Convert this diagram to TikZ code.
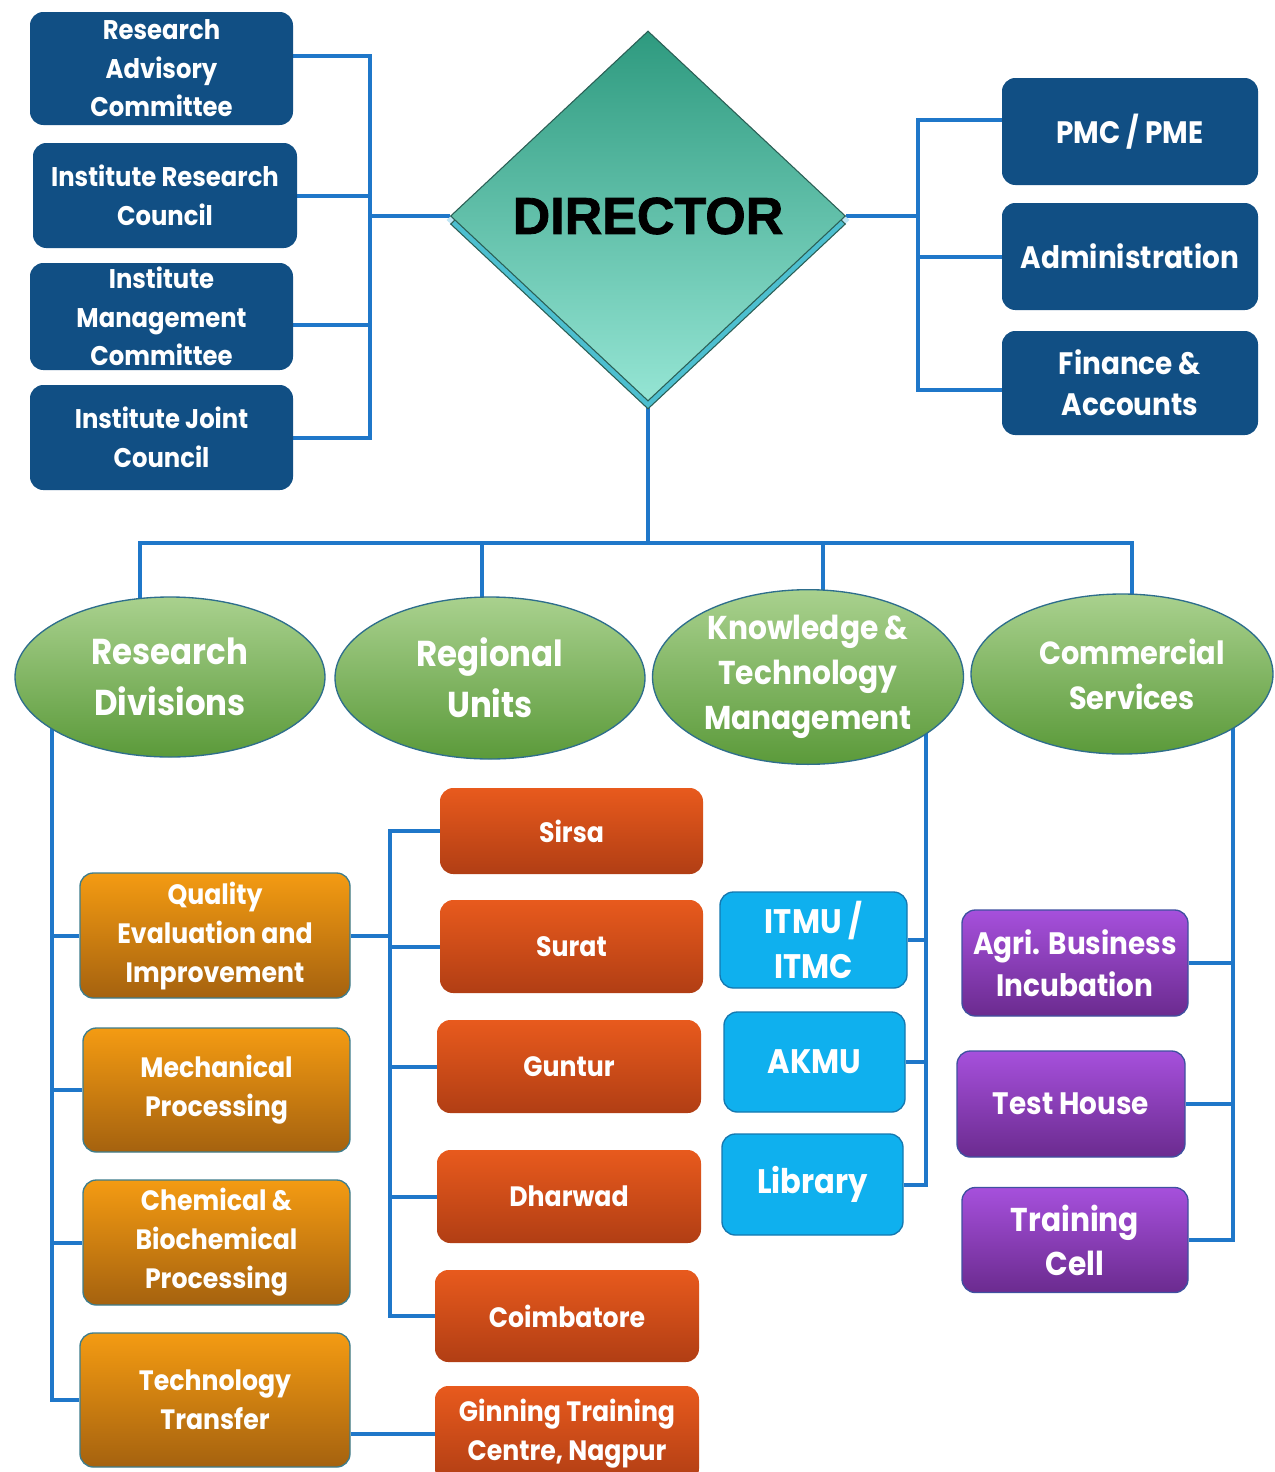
\documentclass[tikz,border=0pt]{standalone}
\usepackage{fontspec}
\setmainfont{PT Sans}
\newfontfamily\dirfont[BoldFeatures={FakeBold=1.5}]{Liberation Sans}
\newfontfamily\bx[FakeStretch=0.9]{Poppins}
\usetikzlibrary{shapes.geometric,backgrounds}
\definecolor{navy}{HTML}{114F84}
\definecolor{connc}{HTML}{1F77C9}
\definecolor{grT}{HTML}{A9D18E}
\definecolor{grB}{HTML}{5B9A3A}
\definecolor{grD}{HTML}{2E6E8C}
\definecolor{diT}{HTML}{2E9A7F}
\definecolor{diB}{HTML}{95E5D4}
\definecolor{dirD}{HTML}{2B5F55}
\definecolor{dirsh}{HTML}{4DBFD0}
\definecolor{glow}{HTML}{BFE6F5}
\definecolor{orT}{HTML}{F49B12}
\definecolor{orB}{HTML}{A5620F}
\definecolor{orD}{HTML}{3E7D8C}
\definecolor{reT}{HTML}{E85A1D}
\definecolor{reB}{HTML}{B13E14}
\definecolor{blu}{HTML}{0FB0EE}
\definecolor{bluD}{HTML}{1578B0}
\definecolor{puT}{HTML}{A650DC}
\definecolor{puB}{HTML}{6B2B8F}
\definecolor{puD}{HTML}{3F50A0}
\newcommand\fsz[2]{\fontsize{\fpeval{#1*0.75}}{\fpeval{#2*0.75}}\selectfont}
\begin{document}
\begin{tikzpicture}[x=0.75pt,y=-0.75pt,
  conn/.style={draw=connc, line width=3pt},
  base/.style={rounded corners=10pt, inner sep=0pt, align=center, text=white},
  fs/.style 2 args={font=\bx\bfseries\fsz{#1}{#2}},
  sz/.style 2 args={minimum width=#1*0.75pt, minimum height=#2*0.75pt},
  navybox/.style={base, fill=navy},
  orbox/.style={base, top color=orT, bottom color=orB, draw=orD, line width=1pt},
  redbox/.style={base, top color=reT, bottom color=reB},
  bluebox/.style={base, fill=blu, draw=bluD, line width=1pt},
  purbox/.style={base, top color=puT, bottom color=puB, draw=puD, line width=1pt},
  oval/.style={ellipse, inner sep=0pt, align=center, text=white, top color=grT, bottom color=grB, draw=grD, line width=1pt},
]
\useasboundingbox (0,0) rectangle (1275,1472);

% left committee boxes
\node[navybox, sz={263}{113}, fs={27}{38.5}] (rac) at (161.5,68.5) {Research\\Advisory\\Committee};
\node[navybox, sz={264}{105}, fs={27}{38.5}] (irc) at (165,195.5) {Institute Research\\Council};
\node[navybox, sz={263}{107}, fs={27}{38.5}] (imc) at (161.5,316.5) {Institute\\Management\\Committee};
\node[navybox, sz={263}{105}, fs={27}{38.5}] (ijc) at (161.5,437.5) {Institute Joint\\Council};

% right boxes
\node[navybox, sz={256}{107}, fs={31}{41}] (pmc) at (1130,131.5) {PMC / PME};
\node[navybox, sz={256}{107}, fs={31}{41}] (adm) at (1130,256.5) {Administration};
\node[navybox, sz={256}{104}, fs={31}{41}] (fin) at (1130,383) {Finance \&\\Accounts};

% director
\node[diamond, sz={403}{378}, inner sep=0pt, fill=glow] (dglow) at (648,220) {};
\node[diamond, sz={395}{370}, inner sep=0pt, fill=dirsh, draw=dirD, line width=0.8pt] (dsh) at (648,224) {};
\node[diamond, sz={395}{370}, inner sep=0pt, top color=diT, bottom color=diB, draw=dirD, line width=0.8pt, font=\dirfont\bfseries\fsz{52}{60}] (dir) at (648,216) {DIRECTOR};

% ellipses
\node[oval, sz={310}{160}, fs={36}{51}] (rd) at (170,677) {Research\\Divisions};
\node[oval, sz={310}{162}, fs={36}{51}] (ru) at (490,678) {Regional\\Units};
\node[oval, sz={311}{160}, fs={33}{45}] (ktm) at (808,677) {Knowledge \&\\Technology\\Management};
\node[oval, sz={302}{160}, fs={32}{45}] (cs) at (1122,674) {\hspace*{15pt}Commercial\\\hspace*{15pt}Services};

% research divisions
\node[orbox, sz={270}{125}, fs={28}{39}] (qei) at (215,935.5) {Quality\\Evaluation and\\Improvement};
\node[orbox, sz={267}{124}, fs={28}{39}] (mp) at (216.5,1090) {Mechanical\\Processing};
\node[orbox, sz={267}{125}, fs={28}{39}] (cbp) at (216.5,1242.5) {Chemical \&\\Biochemical\\Processing};
\node[orbox, sz={270}{134}, fs={28}{39}] (tt) at (215,1400) {Technology\\Transfer};

% regional units
\node[redbox, sz={263}{86}, fs={28}{39}] (sirsa) at (571.5,831) {Sirsa};
\node[redbox, sz={263}{93}, fs={28}{39}] (surat) at (571.5,946.5) {Surat};
\node[redbox, sz={264}{93}, fs={28}{39}] (guntur) at (569,1066.5) {Guntur};
\node[redbox, sz={264}{93}, fs={28}{39}] (dharwad) at (569,1196.5) {Dharwad};
\node[redbox, sz={264}{92}, fs={28}{39}] (coim) at (567,1316) {Coimbatore};
\node[redbox, sz={264}{96}, fs={28}{39}] (gtc) at (567,1434) {Ginning Training\\Centre, Nagpur};

% knowledge units
\node[bluebox, sz={187}{96}, fs={34}{45}] (itmu) at (813.5,940) {ITMU /\\ITMC};
\node[bluebox, sz={181}{100}, fs={34}{45}] (akmu) at (814.5,1062) {AKMU};
\node[bluebox, sz={181}{101}, fs={34}{45}] (lib) at (812.5,1184.5) {Library};

% commercial units
\node[purbox, sz={226}{106}, fs={31}{42}] (agri) at (1075,963) {Agri. Business\\Incubation};
\node[purbox, sz={228}{106}, fs={31}{42}] (test) at (1071,1104) {Test House};
\node[purbox, sz={226}{105}, fs={33}{44}] (tc) at (1075,1240) {Training\\Cell};

% junction coordinates
\coordinate (lbus) at (370,216);
\coordinate (rbus) at (918,216);
\coordinate (dbus) at (648,543);
\coordinate (rdv) at (52,700);
\coordinate (rux) at (390,935.5);
\coordinate (ktv) at (926,700);
\coordinate (csv) at (1233,700);

\begin{pgfonlayer}{background}
\fill[white] (0,0) rectangle (1275,1472);
\draw[conn] ([yshift=9.75pt]rac.east) -| (lbus);
\draw[conn] (ijc.east) -| (lbus);
\draw[conn] (irc.east) -- (irc.east -| lbus);
\draw[conn] ([yshift=-6pt]imc.east) -- ([yshift=-6pt]imc.east -| lbus);
\draw[conn] (lbus) -- (dir.west);
\draw[conn] (dir.east) -- (rbus);
\draw[conn] ([yshift=8.5pt]pmc.west) -| (rbus);
\draw[conn] ([yshift=-5pt]fin.west) -| (rbus);
\draw[conn] (adm.west) -- (adm.west -| rbus);
\draw[conn] (dir.south) -- (dbus);
\draw[conn] ([xshift=-22.5pt]rd.center) |- (dbus) -| ([xshift=7.5pt]cs.center);
\draw[conn] ([xshift=-6pt]ru.center) -- ([xshift=-6pt]ru.center |- dbus);
\draw[conn] ([xshift=11.25pt]ktm.center) -- ([xshift=11.25pt]ktm.center |- dbus);
\draw[conn] (rdv) |- (tt.west);
\draw[conn] (rdv |- qei.west) -- (qei.west);
\draw[conn] (rdv |- mp.west) -- (mp.west);
\draw[conn] (rdv |- cbp.west) -- (cbp.west);
\draw[conn] (qei.east) -- (rux);
\draw[conn] (sirsa.west) -| (rux |- coim.west) -- (coim.west);
\draw[conn] (rux |- surat.west) -- (surat.west);
\draw[conn] (rux |- guntur.west) -- (guntur.west);
\draw[conn] (rux |- dharwad.west) -- (dharwad.west);
\draw[conn] (tt.east |- gtc.west) -- (gtc.west);
\draw[conn] (ktv) |- (lib.east);
\draw[conn] (ktv |- itmu.east) -- (itmu.east);
\draw[conn] (ktv |- akmu.east) -- (akmu.east);
\draw[conn] (csv) |- (tc.east);
\draw[conn] (csv |- agri.east) -- (agri.east);
\draw[conn] (csv |- test.east) -- (test.east);
\end{pgfonlayer}
\end{tikzpicture}
\end{document}
